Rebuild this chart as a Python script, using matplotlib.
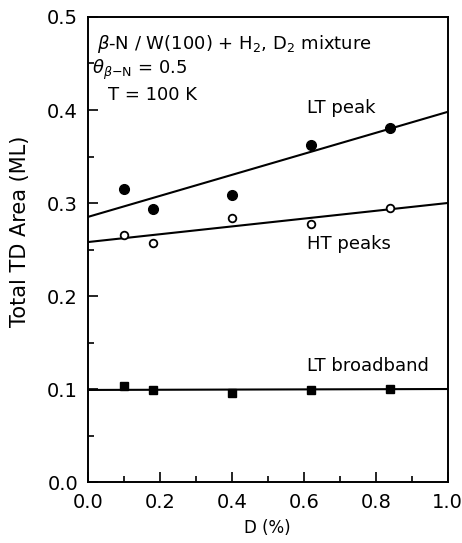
import numpy as np
import matplotlib

matplotlib.use("Agg")
import matplotlib.pyplot as plt
from matplotlib.ticker import MultipleLocator

# D (%) positions of the measurements
d_pct = [0.10, 0.18, 0.40, 0.62, 0.84]

# Total TD area (ML)
lt_peak = [0.315, 0.294, 0.309, 0.362, 0.381]
ht_peaks = [0.266, 0.257, 0.284, 0.277, 0.295]
lt_broadband = [0.103, 0.099, 0.096, 0.099, 0.100]

# fitted straight lines (end values at D = 0 and D = 1)
fit_x = [0.0, 1.0]
lt_peak_fit = [0.285, 0.398]
ht_peaks_fit = [0.258, 0.300]
lt_broadband_fit = [0.099, 0.100]

plt.rcParams.update({"font.family": "DejaVu Sans", "font.size": 13,
                     "mathtext.fontset": "dejavusans"})

fig = plt.figure(figsize=(4.62, 5.43), dpi=100)
ax = fig.add_axes([0.190, 0.1123, 0.779, 0.8564])

ax.plot(fit_x, lt_peak_fit, color="black", lw=1.5)
ax.plot(fit_x, ht_peaks_fit, color="black", lw=1.5)
ax.plot(fit_x, lt_broadband_fit, color="black", lw=1.5)

ax.plot(d_pct, lt_peak, "o", color="black", ms=7, zorder=3)
ax.plot(d_pct, ht_peaks, "o", mfc="white", mec="black", mew=1.3, ms=5.5, zorder=3)
ax.plot(d_pct, lt_broadband, "s", color="black", ms=6, zorder=3)

ax.text(0.025, 0.471, r"$\beta$-N / W(100) + H$_2$, D$_2$ mixture", va="center")
ax.text(0.011, 0.443, r"$\theta_{\beta\mathrm{-N}}$ = 0.5", va="center")
ax.text(0.056, 0.416, "T = 100 K", va="center")
ax.text(0.608, 0.402, "LT peak", va="center")
ax.text(0.608, 0.256, "HT peaks", va="center")
ax.text(0.608, 0.125, "LT broadband", va="center")

ax.set_xlim(0, 1.0)
ax.set_ylim(0, 0.5)
ax.xaxis.set_major_locator(MultipleLocator(0.2))
ax.xaxis.set_minor_locator(MultipleLocator(0.1))
ax.yaxis.set_major_locator(MultipleLocator(0.1))
ax.yaxis.set_minor_locator(MultipleLocator(0.05))
ax.xaxis.set_major_formatter(lambda v, p: f"{v:.1f}")
ax.yaxis.set_major_formatter(lambda v, p: f"{v:.1f}")
ax.tick_params(which="both", direction="in", width=1.2, labelsize=14)
ax.tick_params(which="major", length=7)
ax.tick_params(which="minor", length=4)
ax.tick_params(axis="x", pad=8)
ax.tick_params(axis="y", pad=7)
for s in ax.spines.values():
    s.set_linewidth(1.4)

ax.set_xlabel("D (%)", fontsize=12)
ax.set_ylabel("Total TD Area (ML)", fontsize=15)
ax.xaxis.set_label_coords(0.5, -0.08)
ax.yaxis.set_label_coords(-0.16, 0.54)

fig.savefig("out.png", dpi=100)
